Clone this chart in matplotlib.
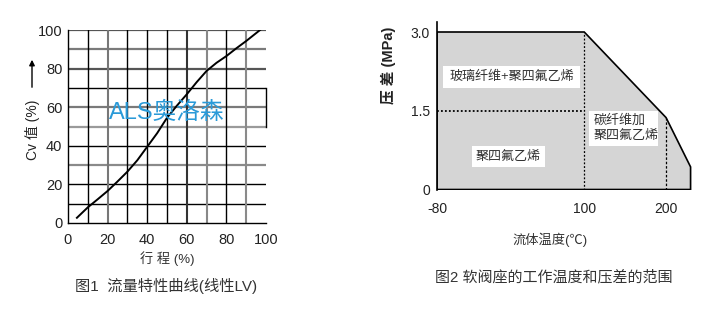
import matplotlib
matplotlib.use("Agg")
import matplotlib.pyplot as plt
from matplotlib.patches import Rectangle, FancyArrowPatch

plt.rcParams['font.family'] = ['Liberation Sans', 'Noto Sans CJK SC', 'DejaVu Sans']
plt.rcParams['axes.unicode_minus'] = False

# figure 1: flow characteristic (stroke % -> Cv %)
stroke = [4.5, 10, 15, 20, 25, 30, 35, 40, 45, 50, 55, 60, 65, 70, 75, 80, 85, 90, 97]
cv = [2.7, 8.1, 12.3, 16.6, 21.5, 26.6, 32.5, 39.5, 46.5, 54.5, 60.8, 66.7, 73, 78.8, 83, 86.5, 90.5, 94.3, 100]
cv_ticks = [0, 20, 40, 60, 80, 100]
stroke_ticks = [0, 20, 40, 60, 80, 100]

# figure 2: soft seat working range (temperature -> pressure diff)
temp = [-80, -80, 100, 200, 230, 230]
dp = [0, 3.0, 3.0, 1.37, 0.43, 0]
temp_ticks = [-80, 100, 200]
dp_ticks = [0, 1.5, 3.0]
dp_labels = ['0', '1.5', '3.0']

W, H = 706, 312
fig = plt.figure(figsize=(W / 100, H / 100), dpi=100)

# ---------- left chart ----------
ax1 = fig.add_axes([68 / W, (H - 223) / H, 198 / W, 193 / H])
ax1.set_xlim(0, 100)
ax1.set_ylim(0, 100)

h_cols = {10: 'k', 20: 'k', 30: '#8a8a8a', 40: 'k', 50: '#9a9a9a', 60: '#7a7a7a',
          70: 'k', 80: '#555555', 90: '#7a7a7a', 100: '#555555'}
v_cols = {10: 'k', 20: '#777777', 30: 'k', 40: 'k', 50: 'k', 60: '#333333',
          70: '#888888', 80: 'k', 90: '#8a8a8a'}
for v, c in h_cols.items():
    ax1.axhline(v, color=c, lw=1.0 if c == 'k' else 1.6, zorder=1)
for v, c in v_cols.items():
    ax1.axvline(v, color=c, lw=1.0 if c == 'k' else 1.5, zorder=1)
ax1.plot([100, 100], [50, 70], color='k', lw=1.0, clip_on=False)

ax1.plot(stroke, cv, color='k', lw=1.4, zorder=3, solid_joinstyle='round')

for s in ['top', 'right']:
    ax1.spines[s].set_visible(False)
for s in ['left', 'bottom']:
    ax1.spines[s].set_color('k')
    ax1.spines[s].set_linewidth(1.0)

ax1.set_xticks(stroke_ticks)
ax1.set_yticks(cv_ticks)
ax1.tick_params(length=0, labelsize=10.5, colors='#222222')
ax1.tick_params(axis='x', pad=7)
ax1.tick_params(axis='y', pad=4)
ax1.set_xlabel('行 程 (%)', fontsize=9.5, color='#333333', labelpad=3)

ax1.text(0.5, 0.57, 'ALS奥洛森', transform=ax1.transAxes, ha='center', va='center',
         fontsize=17, color='#2a9ad8', zorder=4)

fig.text(32 / W, 1 - 130 / H, 'Cv 值 (%)', rotation=90, ha='center', va='center',
         fontsize=10, color='#222222')
fig.add_artist(FancyArrowPatch(
    (32 / W, 1 - 90 / H), (32 / W, 1 - 57 / H), transform=fig.transFigure,
    arrowstyle='-|>', mutation_scale=8, color='k', lw=1.0))

fig.text(166 / W, 1 - 286 / H, '图1  流量特性曲线(线性LV)', ha='center', va='center',
         fontsize=11, color='#333333')

# ---------- right chart ----------
ax2 = fig.add_axes([437 / W, (H - 189.5) / H, 320 * 0.818 / W, 3.2 * 52.5 / H])
ax2.set_xlim(-80, 240)
ax2.set_ylim(0, 3.2)

ax2.fill(temp, dp, facecolor='#d5d5d5', edgecolor='k', lw=1.2, zorder=1)
ax2.plot([100, 100], [0, 3.0], color='k', lw=0.9, ls=(0, (1.5, 1.5)), zorder=2)
ax2.plot([200, 200], [0, 1.37], color='k', lw=0.9, ls=(0, (2, 1.5)), zorder=2)
ax2.plot([-80, 100], [1.5, 1.5], color='k', lw=1.3, ls=(0, (1, 1.2)), zorder=2)

boxes = [(-72.7, 1.93, 167.4, 0.43), (105.7, 0.83, 84.3, 0.67), (-37.3, 0.42, 89.3, 0.41)]
for x0, y0, w, h in boxes:
    ax2.add_patch(Rectangle((x0, y0), w, h, facecolor='white', edgecolor='none', zorder=3))
ax2.text(11, 2.145, '玻璃纤维+聚四氟乙烯', ha='center', va='center', fontsize=9.4,
         color='#333333', zorder=4)
ax2.text(111, 1.16, '碳纤维加\n聚四氟乙烯', ha='left', va='center', fontsize=9.4,
         color='#333333', linespacing=1.35, multialignment='left', zorder=4)
ax2.text(7, 0.62, '聚四氟乙烯', ha='center', va='center', fontsize=9.4,
         color='#333333', zorder=4)

for s in ['top', 'right', 'bottom']:
    ax2.spines[s].set_visible(False)
ax2.spines['left'].set_linewidth(1.2)
ax2.set_xticks(temp_ticks)
ax2.set_yticks(dp_ticks)
ax2.set_yticklabels(dp_labels)
ax2.tick_params(length=0, labelsize=10, colors='#222222')
ax2.tick_params(axis='x', pad=9)
ax2.tick_params(axis='y', pad=5)

fig.text(388 / W, 1 - 65 / H, '压 差 (MPa)', rotation=90, ha='center', va='center',
         fontsize=10.5, fontweight='bold', color='#222222')
fig.text(550 / W, 1 - 240 / H, '流体温度(℃)', ha='center', va='center',
         fontsize=9.5, color='#333333')
fig.text(554 / W, 1 - 277 / H, '图2 软阀座的工作温度和压差的范围', ha='center', va='center',
         fontsize=10.8, color='#333333')

fig.savefig('out.png', dpi=100)
